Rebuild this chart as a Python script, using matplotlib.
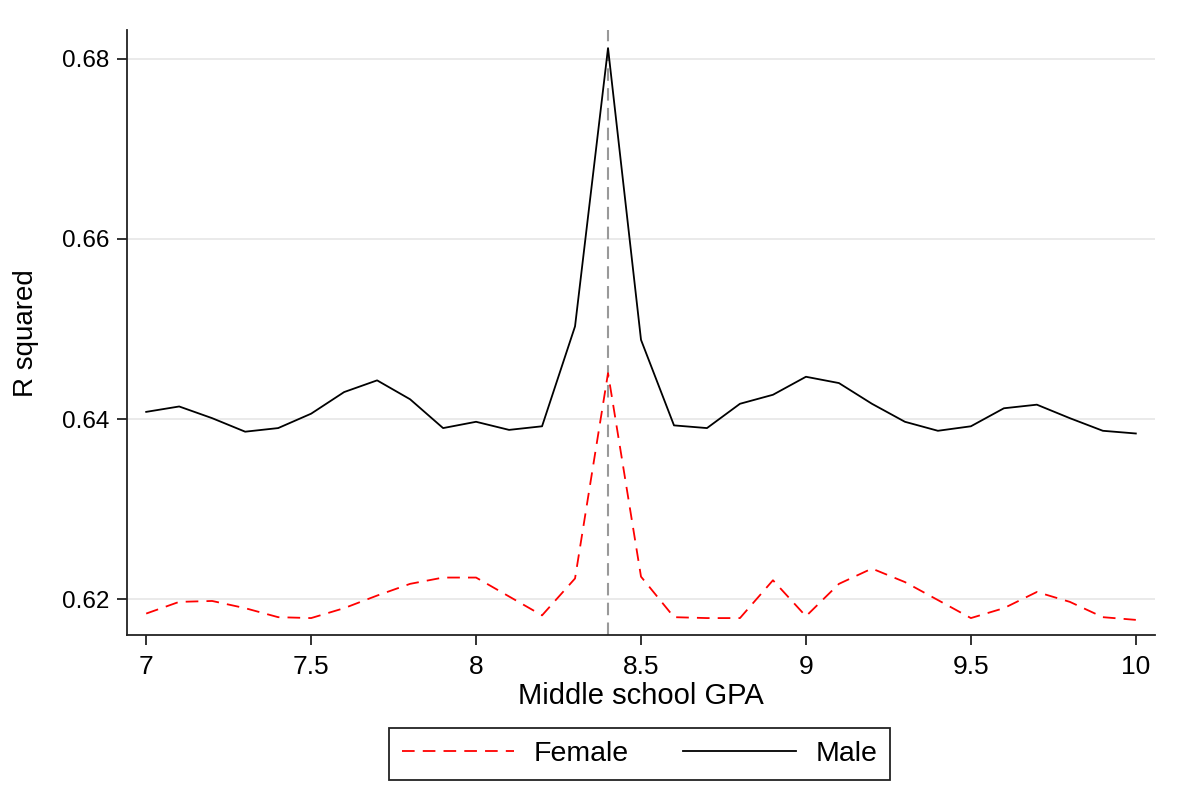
import numpy as np
import matplotlib
matplotlib.use("Agg")
import matplotlib.pyplot as plt

plt.rcParams['font.family'] = ['Liberation Sans', 'DejaVu Sans']

# GPA cutoffs and R squared for each subgroup
gpa = [7.0, 7.1, 7.2, 7.3, 7.4, 7.5, 7.6, 7.7, 7.8, 7.9, 8.0,
       8.1, 8.2, 8.3, 8.4, 8.5, 8.6, 8.7, 8.8, 8.9, 9.0,
       9.1, 9.2, 9.3, 9.4, 9.5, 9.6, 9.7, 9.8, 9.9, 10.0]
r2_male = [0.6408, 0.6414, 0.6401, 0.6386, 0.6390, 0.6406, 0.6430, 0.6443, 0.6422, 0.6390, 0.6397,
           0.6388, 0.6392, 0.6503, 0.6812, 0.6488, 0.6393, 0.6390, 0.6417, 0.6427, 0.6447,
           0.6440, 0.6417, 0.6397, 0.6387, 0.6392, 0.6412, 0.6416, 0.6401, 0.6387, 0.6384]
r2_female = [0.6184, 0.6197, 0.6198, 0.6190, 0.6180, 0.6179, 0.6190, 0.6204, 0.6217, 0.6224, 0.6224,
             0.6203, 0.6182, 0.6223, 0.6451, 0.6225, 0.6180, 0.6179, 0.6179, 0.6221, 0.6181,
             0.6217, 0.6234, 0.6219, 0.6199, 0.6179, 0.6190, 0.6208, 0.6197, 0.6180, 0.6177]
cutoff = 8.4
yticks = [0.62, 0.64, 0.66, 0.68]
ytick_labels = ['0.62', '0.64', '0.66', '0.68']
xticks = [7, 7.5, 8, 8.5, 9, 9.5, 10]
xtick_labels = ['7', '7.5', '8', '8.5', '9', '9.5', '10']

fig = plt.figure(figsize=(11.83, 7.92), dpi=100)
ax = fig.add_axes([0.1074, 0.198, 0.8689, 0.764])

for y in yticks:
    ax.axhline(y, color='#e6e6e6', lw=1.2, zorder=0)

ax.axvline(cutoff, color='#999999', lw=1.5, linestyle=(0, (6, 3.5)), zorder=1)
ax.plot(gpa, r2_female, color='red', lw=1.3, linestyle=(0, (7, 4.5)), label='Female', zorder=2)
ax.plot(gpa, r2_male, color='black', lw=1.3, label='Male', zorder=3)

ax.set_xlim(6.942, 10.058)
ax.set_ylim(0.616, 0.6832)
ax.set_yticks(yticks)
ax.set_yticklabels(ytick_labels)
ax.set_xticks(xticks)
ax.set_xticklabels(xtick_labels)
ax.tick_params(axis='both', direction='out', length=7.5, width=1.3, color='#222222')
ax.tick_params(axis='x', labelsize=19, pad=7)
ax.tick_params(axis='y', labelsize=17.5, pad=5)

ax.spines['top'].set_visible(False)
ax.spines['right'].set_visible(False)
for s in ('left', 'bottom'):
    ax.spines[s].set_linewidth(1.3)
    ax.spines[s].set_color('#222222')

ax.set_xlabel('Middle school GPA', fontsize=21, labelpad=2)
ax.set_ylabel('R squared', fontsize=20, labelpad=17)

leg = fig.legend(loc='center', bbox_to_anchor=(0.5406, 0.048), ncol=2,
                 fontsize=20.5, handlelength=3.95, handletextpad=0.7, columnspacing=1.9,
                 fancybox=False, edgecolor='#222222', framealpha=1, borderpad=0.45)
leg.get_frame().set_linewidth(1.3)

fig.savefig('out.png', dpi=100)
